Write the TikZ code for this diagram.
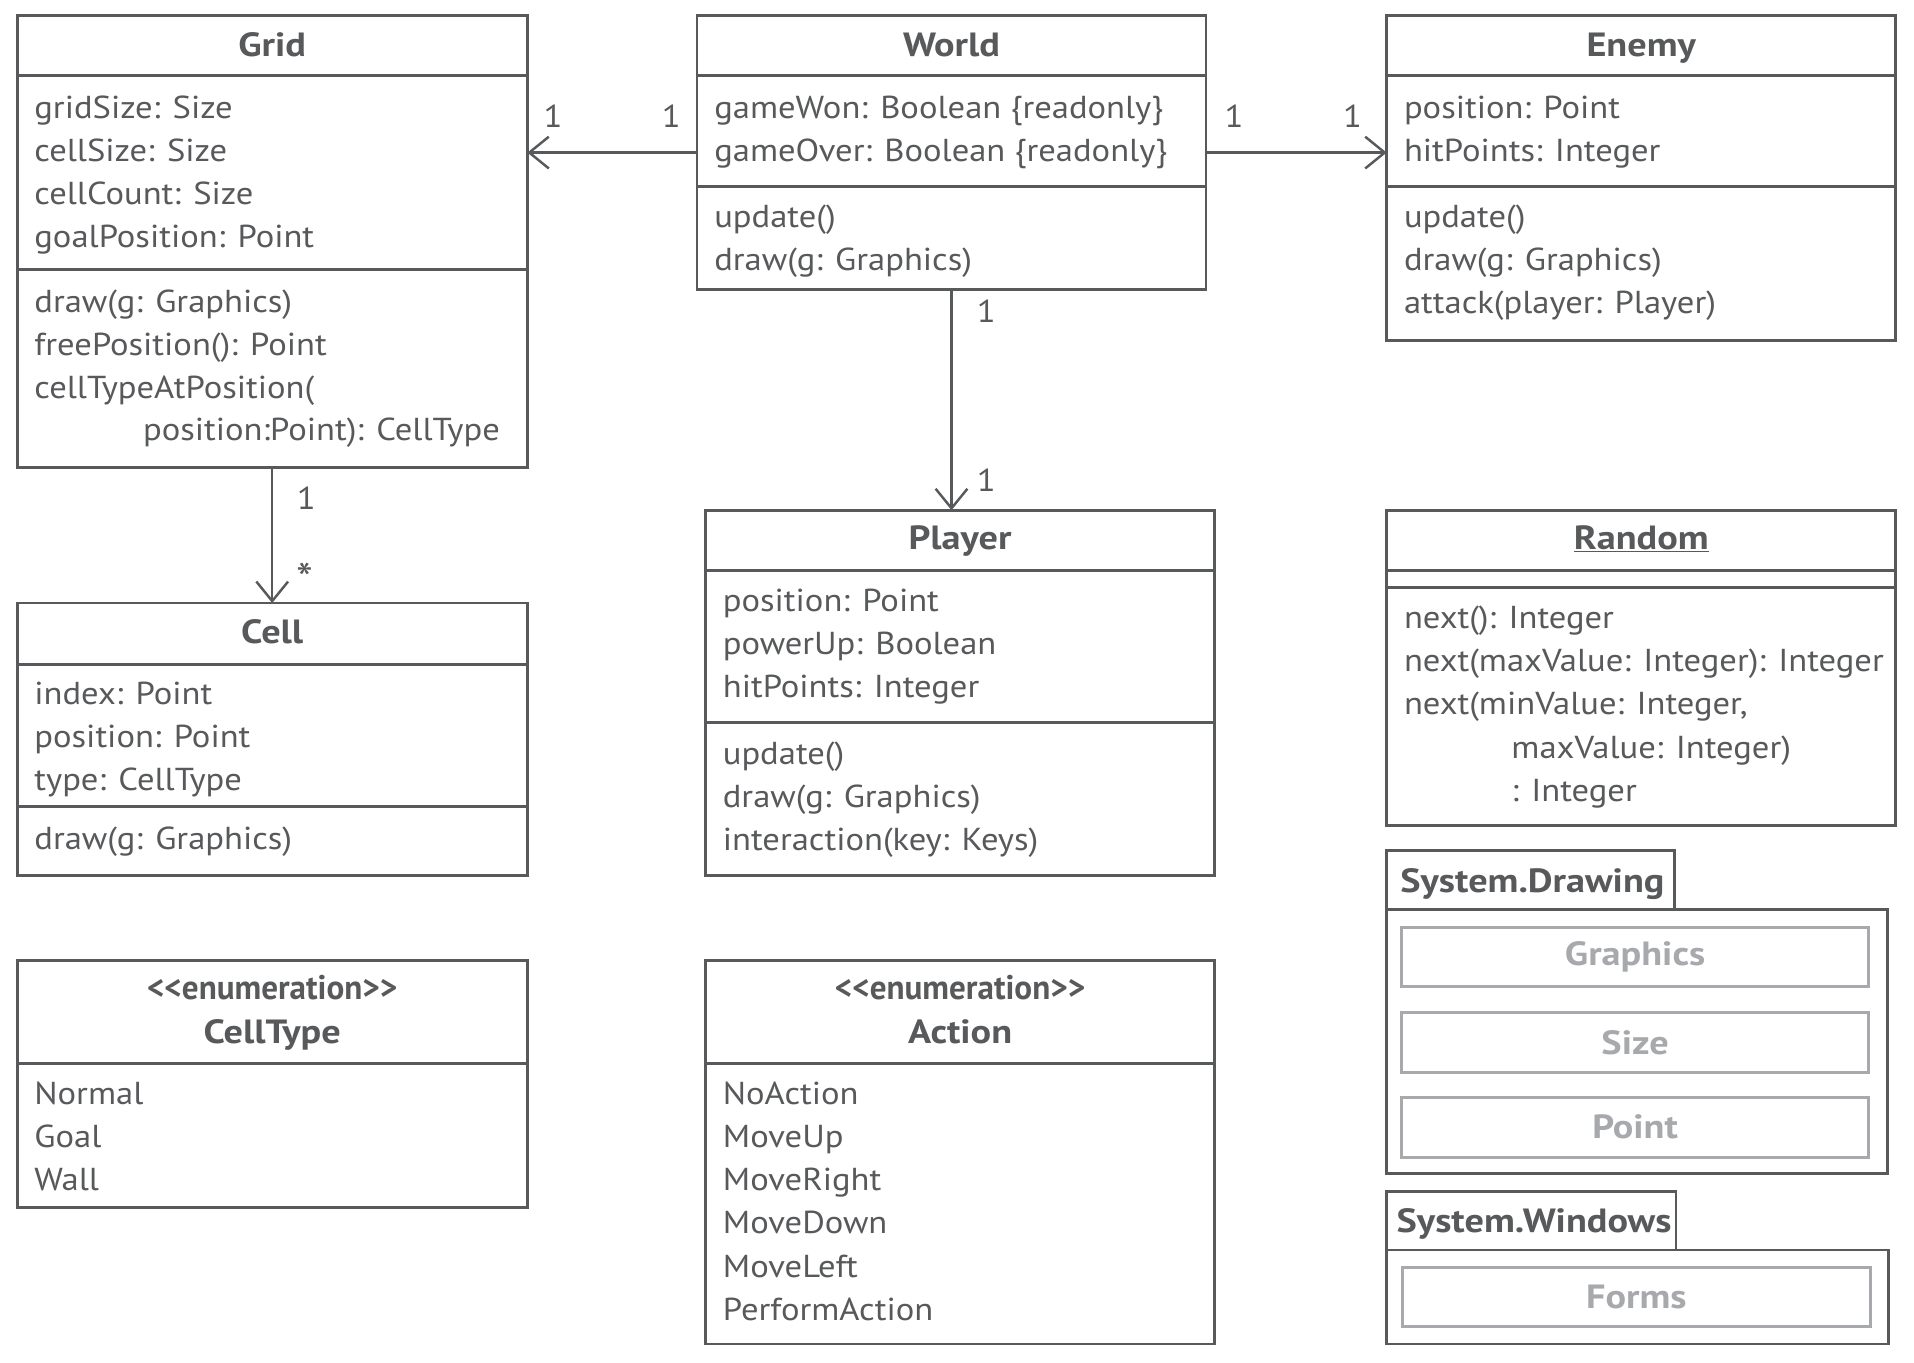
\documentclass[tikz,border=0pt]{standalone}
\usepackage{fontspec}
\setmainfont{PT Sans}[FakeStretch=1.09, BoldFeatures={FakeStretch=1.14}]
\usepackage{graphicx}
\usetikzlibrary{arrows.meta}
\definecolor{ink}{HTML}{58595B}
\definecolor{soft}{HTML}{A7A9AC}
\tikzset{
  cls/.style={draw=ink, line width=2.4pt, anchor=north west, inner sep=0pt, outer sep=0pt},
  txt/.style={anchor=base west, inner sep=0pt, text=ink, font=\fontsize{26}{30}\selectfont},
  ttl/.style={anchor=base, inner sep=0pt, text=ink, font=\fontsize{27.5}{30}\selectfont\bfseries},
  ster/.style={anchor=base, inner sep=0pt, text=ink, font=\fontsize{28}{30}\selectfont\bfseries},
  mult/.style={anchor=center, inner sep=0pt, text=ink, font=\fontsize{26}{30}\selectfont},
  sep/.style={draw=ink, line width=2.4pt},
  assoc/.style={draw=ink, line width=2pt, -{Straight Barb[length=16pt,width=26pt,line width=2pt]}},
  inbox/.style={draw=soft, line width=2.4pt, minimum width=383pt, minimum height=49pt, inner sep=0pt,
    text=soft, font=\fontsize{27.5}{30}\selectfont\bfseries},
  pkgname/.style={anchor=base west, inner sep=0pt, text=ink, font=\fontsize{27.5}{30}\selectfont\bfseries},
}
\begin{document}
\begin{tikzpicture}[x=1pt,y=-1pt]
\path[use as bounding box, fill=white] (0,0) rectangle (1568,1116);

% ---------- Grid ----------
\node[cls, minimum width=418pt, minimum height=370pt] (grid) at (14,13) {};
\draw[sep] (grid.west |- 0,62) -- (grid.east |- 0,62);
\draw[sep] (grid.west |- 0,221) -- (grid.east |- 0,221);
\node[ttl] (gridT) at (223,46) {Grid};
\foreach \t [count=\i from 0] in {{gridSize: Size},{cellSize: Size},{cellCount: Size},{goalPosition: Point}}
  \node[txt] (ga\i) at (28,{97+35.3*\i}) {\t};
\foreach \t [count=\i from 0] in {{draw(g: Graphics)},{freePosition(): Point},{cellTypeAtPosition(}}
  \node[txt] (gm\i) at (28,{256+35.3*\i}) {\t};
\node[txt] (gm3) at (117,361) {position:Point): CellType};

% ---------- World ----------
\node[cls, minimum width=417pt, minimum height=224pt] (world) at (571,13) {};
\draw[sep] (world.west |- 0,62) -- (world.east |- 0,62);
\draw[sep] (world.west |- 0,153) -- (world.east |- 0,153);
\node[ttl] (worldT) at (779.5,46) {World};
\node[txt] (wa0) at (585,97) {gameWon: Boolean \{readonly\}};
\node[txt] (wa1) at (585,132.3) {gameOver: Boolean \{readonly\}};
\node[txt] (wm0) at (585,186) {update()};
\node[txt] (wm1) at (585,221.3) {draw(g: Graphics)};

% ---------- Enemy ----------
\node[cls, minimum width=417pt, minimum height=266pt] (enemy) at (1136,13) {};
\draw[sep] (enemy.west |- 0,62) -- (enemy.east |- 0,62);
\draw[sep] (enemy.west |- 0,153) -- (enemy.east |- 0,153);
\node[ttl] (enemyT) at (1344.5,46) {Enemy};
\node[txt] (ea0) at (1150,97) {position: Point};
\node[txt] (ea1) at (1150,132.3) {hitPoints: Integer};
\foreach \t [count=\i from 0] in {{update()},{draw(g: Graphics)},{attack(player: Player)}}
  \node[txt] (em\i) at (1150,{186+35.3*\i}) {\t};

% ---------- Cell ----------
\node[cls, minimum width=418pt, minimum height=223pt] (cell) at (14,494) {};
\draw[sep] (cell.west |- 0,544) -- (cell.east |- 0,544);
\draw[sep] (cell.west |- 0,661) -- (cell.east |- 0,661);
\node[ttl] (cellT) at (223,527) {Cell};
\foreach \t [count=\i from 0] in {{index: Point},{position: Point},{type: CellType}}
  \node[txt] (ca\i) at (28,{577+35.3*\i}) {\t};
\node[txt] (cm0) at (28,696) {draw(g: Graphics)};

% ---------- Player ----------
\node[cls, minimum width=417pt, minimum height=299pt] (player) at (578,418) {};
\draw[sep] (player.west |- 0,467) -- (player.east |- 0,467);
\draw[sep] (player.west |- 0,592) -- (player.east |- 0,592);
\node[ttl] (playerT) at (786.5,450) {Player};
\foreach \t [count=\i from 0] in {{position: Point},{powerUp: Boolean},{hitPoints: Integer}}
  \node[txt] (pa\i) at (592,{501+35.3*\i}) {\t};
\foreach \t [count=\i from 0] in {{update()},{draw(g: Graphics)},{interaction(key: Keys)}}
  \node[txt] (pm\i) at (592,{626+35.3*\i}) {\t};

% ---------- Random ----------
\node[cls, minimum width=417pt, minimum height=258pt] (random) at (1136,418) {};
\draw[sep] (random.west |- 0,467) -- (random.east |- 0,467);
\draw[sep] (random.west |- 0,481) -- (random.east |- 0,481);
\node[ttl] (randomT) at (1344.5,450) {\underline{Random}};
\foreach \t [count=\i from 0] in {{next(): Integer},{next(maxValue: Integer): Integer},{next(minValue: Integer,}}
  \node[txt] (rm\i) at (1150,{515+35.3*\i}) {\t};
\node[txt] (rm3) at (1238,621) {maxValue: Integer)};
\node[txt] (rm4) at (1238,656.3) {: Integer};

% ---------- CellType ----------
\node[cls, minimum width=418pt, minimum height=202pt] (celltype) at (14,787) {};
\draw[sep] (celltype.west |- 0,871) -- (celltype.east |- 0,871);
\node[ster] (ctS) at (223,819) {\scalebox{0.85}[1]{{<}{<}enumeration{>}{>}}};
\node[ttl] (ctT) at (223,855) {CellType};
\foreach \t [count=\i from 0] in {{Normal},{Goal},{Wall}}
  \node[txt] (ct\i) at (28,{905+35.3*\i}) {\t};

% ---------- Action ----------
\node[cls, minimum width=417pt, minimum height=314pt] (action) at (578,787) {};
\draw[sep] (action.west |- 0,871) -- (action.east |- 0,871);
\node[ster] (acS) at (786.5,819) {\scalebox{0.85}[1]{{<}{<}enumeration{>}{>}}};
\node[ttl] (acT) at (786.5,855) {Action};
\foreach \t [count=\i from 0] in {{NoAction},{MoveUp},{MoveRight},{MoveDown},{MoveLeft},{PerformAction}}
  \node[txt] (ac\i) at (592,{905+35.3*\i}) {\t};

% ---------- System.Drawing ----------
\node[cls, minimum width=236pt, minimum height=48pt] (sdTab) at (1136,697) {};
\node[cls, minimum width=410pt, minimum height=216pt] (sdBody) at (1136,745) {};
\node[pkgname] (sdName) at (1147,731) {System.Drawing};
\node[inbox] (graphics) at (1339.5,784) {Graphics};
\node[inbox] (size) at (1339.5,854) {Size};
\node[inbox] (point) at (1339.5,923.5) {Point};

% ---------- System.Windows ----------
\node[cls, minimum width=237pt, minimum height=48pt] (swTab) at (1136,976) {};
\node[cls, minimum width=411pt, minimum height=77pt] (swBody) at (1136,1024) {};
\node[pkgname] (swName) at (1144,1010) {System.Windows};
\node[inbox] (forms) at (1340.5,1062.5) {Forms};

% ---------- Associations ----------
\draw[assoc] (world.west) -- (world.west -| grid.east);
\draw[assoc] (world.east) -- (world.east -| enemy.west);
\draw[assoc] (world.south) -- (world.south |- player.north);
\draw[assoc] (grid.south) -- (cell.north);

\node[mult] (m1) at (453,95) {1};
\node[mult] (m2) at (550,95) {1};
\node[mult] (m3) at (1011,95) {1};
\node[mult] (m4) at (1108,95) {1};
\node[mult] (m5) at (808,255) {1};
\node[mult] (m6) at (808,393) {1};
\node[mult] (m7) at (251,408) {1};
\node[mult, font=\fontsize{36}{40}\selectfont] (m8) at (250,474) {*};
\end{tikzpicture}
\end{document}
